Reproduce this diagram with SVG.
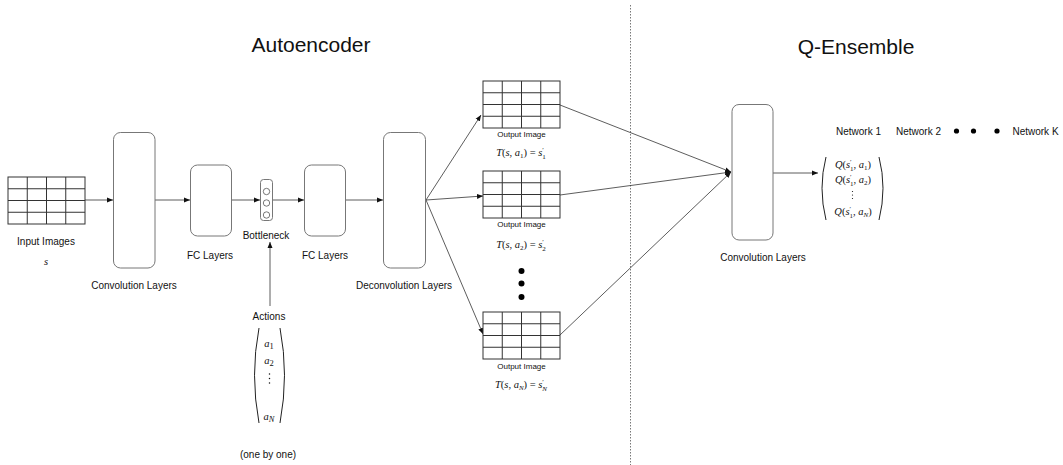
<svg xmlns="http://www.w3.org/2000/svg" xmlns:xlink="http://www.w3.org/1999/xlink" width="1063" height="465" viewBox="0 0 1063 465">
<style>
.box{fill:#fff;stroke:#777;stroke-width:1}
.gl{stroke:#333;stroke-width:1;fill:none}
.lbl{font-family:"Liberation Sans",Arial,sans-serif;font-size:10px;fill:#111;text-anchor:middle}
.sm{font-family:"Liberation Sans",Arial,sans-serif;font-size:8px;fill:#111;text-anchor:middle}
.title{font-family:"Liberation Sans",Arial,sans-serif;font-size:21px;fill:#111;text-anchor:middle}
.math{font-family:"Liberation Serif","Times New Roman",serif;font-size:10.5px;fill:#111}
.it{font-style:italic}
.sub{font-size:7px}
.con{stroke:#333;stroke-width:0.8;fill:none}
.par{stroke:#222;stroke-width:1;fill:none}
</style>
<defs>
<marker id="ah" markerUnits="userSpaceOnUse" markerWidth="7" markerHeight="6" refX="6" refY="3" orient="auto">
<path d="M0,0.5 L6,3 L0,5.5 Z" fill="#111"/>
</marker>
<g id="grid">
<rect x="0" y="0" width="77" height="47" fill="#fff" stroke="#333" stroke-width="1"/>
<path class="gl" d="M19.25,0V47M38.5,0V47M57.75,0V47M0,11.75H77M0,23.5H77M0,35.25H77"/>
</g>
</defs>
<rect width="1063" height="465" fill="#fff"/>

<text class="title" x="311" y="52">Autoencoder</text>
<text class="title" x="856" y="54">Q-Ensemble</text>

<line x1="630.5" y1="5" x2="630.5" y2="465" stroke="#555" stroke-width="0.8" stroke-dasharray="1.5,1.5"/>

<g id="connectors">
<line class="con" x1="85" y1="200" x2="113" y2="200" marker-end="url(#ah)"/>
<line class="con" x1="155" y1="200" x2="190" y2="200" marker-end="url(#ah)"/>
<line class="con" x1="232" y1="200" x2="260" y2="200" marker-end="url(#ah)"/>
<line class="con" x1="272" y1="200" x2="304" y2="200" marker-end="url(#ah)"/>
<line class="con" x1="346" y1="200" x2="383" y2="200" marker-end="url(#ah)"/>
<line class="con" x1="270" y1="306" x2="270" y2="242" marker-end="url(#ah)"/>
<line class="con" x1="426" y1="200" x2="481" y2="115" marker-end="url(#ah)"/>
<line class="con" x1="426" y1="200" x2="483" y2="196" marker-end="url(#ah)"/>
<line class="con" x1="426" y1="200" x2="483" y2="334" marker-end="url(#ah)"/>
<line class="con" x1="560" y1="105" x2="731" y2="172" marker-end="url(#ah)"/>
<line class="con" x1="560" y1="195" x2="731" y2="172" marker-end="url(#ah)"/>
<line class="con" x1="560" y1="335" x2="731" y2="172" marker-end="url(#ah)"/>
<line class="con" x1="773" y1="173" x2="818" y2="173" marker-end="url(#ah)"/>
</g>

<g id="input-images">
<use xlink:href="#grid" href="#grid" x="8" y="177"/>
<text class="lbl" x="46" y="245">Input Images</text>
<text class="math it" x="46" y="265" text-anchor="middle" font-size="13">s</text>
</g>

<g id="conv1">
<rect class="box" x="113.5" y="132.5" width="41.5" height="135.5" rx="7"/>
<text class="lbl" x="134" y="289">Convolution Layers</text>
</g>

<g id="fc1">
<rect class="box" x="190.5" y="165" width="41" height="71" rx="7"/>
<text class="lbl" x="210" y="259">FC Layers</text>
</g>

<g id="bottleneck">
<rect class="box" x="260.5" y="179.5" width="12" height="41" rx="3"/>
<circle cx="266.5" cy="191.5" r="3.2" fill="#fff" stroke="#555" stroke-width="0.8"/>
<circle cx="266.5" cy="203" r="3.2" fill="#fff" stroke="#555" stroke-width="0.8"/>
<circle cx="266.5" cy="215" r="3.2" fill="#fff" stroke="#555" stroke-width="0.8"/>
<text class="lbl" x="266" y="239">Bottleneck</text>
</g>

<g id="fc2">
<rect class="box" x="304.5" y="165" width="41" height="71" rx="7"/>
<text class="lbl" x="325" y="259">FC Layers</text>
</g>

<g id="deconv">
<rect class="box" x="383.5" y="132.5" width="42" height="135.5" rx="7"/>
<text class="lbl" x="404" y="289">Deconvolution Layers</text>
</g>

<g id="actions">
<text class="lbl" x="269" y="320">Actions</text>
<path class="par" d="M259,328 Q250,375 259,423"/>
<path class="par" d="M280,328 Q289,375 280,423"/>
<text class="math" x="269" y="347" text-anchor="middle" font-size="13"><tspan class="it">a</tspan><tspan font-size="8.5" dy="2">1</tspan></text>
<text class="math" x="269" y="364" text-anchor="middle" font-size="13"><tspan class="it">a</tspan><tspan font-size="8.5" dy="2">2</tspan></text>
<circle cx="269.5" cy="374" r="0.75" fill="#111"/>
<circle cx="269.5" cy="378.5" r="0.75" fill="#111"/>
<circle cx="269.5" cy="383" r="0.75" fill="#111"/>
<text class="math" x="269" y="420" text-anchor="middle" font-size="13"><tspan class="it">a</tspan><tspan class="it" font-size="8.5" dy="2">N</tspan></text>
<text class="lbl" x="268" y="458">(one by one)</text>
</g>

<g id="output1">
<use xlink:href="#grid" href="#grid" x="483" y="81"/>
<text class="sm" x="521.5" y="137">Output Image</text>
<text class="math" x="521" y="156" text-anchor="middle"><tspan class="it">T</tspan>(<tspan class="it">s</tspan>, <tspan class="it">a</tspan><tspan class="sub" dy="2">1</tspan><tspan dy="-2">) = </tspan><tspan class="it">s</tspan><tspan class="sub" dy="-4">′</tspan><tspan class="sub" dx="-1.5" dy="6.5">1</tspan></text>
</g>

<g id="output2">
<use xlink:href="#grid" href="#grid" x="483" y="171"/>
<text class="sm" x="521.5" y="227">Output Image</text>
<text class="math" x="521" y="248" text-anchor="middle"><tspan class="it">T</tspan>(<tspan class="it">s</tspan>, <tspan class="it">a</tspan><tspan class="sub" dy="2">2</tspan><tspan dy="-2">) = </tspan><tspan class="it">s</tspan><tspan class="sub" dy="-4">′</tspan><tspan class="sub" dx="-1.5" dy="6.5">2</tspan></text>
</g>

<g id="dots-mid">
<circle cx="521.5" cy="271" r="3" fill="#000"/>
<circle cx="521.5" cy="283.5" r="3" fill="#000"/>
<circle cx="521.5" cy="297" r="3" fill="#000"/>
</g>

<g id="output3">
<use xlink:href="#grid" href="#grid" x="483" y="312"/>
<text class="sm" x="521.5" y="369">Output Image</text>
<text class="math" x="521" y="388" text-anchor="middle"><tspan class="it">T</tspan>(<tspan class="it">s</tspan>, <tspan class="it">a</tspan><tspan class="sub it" dy="2">N</tspan><tspan dy="-2">) = </tspan><tspan class="it">s</tspan><tspan class="sub" dy="-4">′</tspan><tspan class="sub it" dx="-1.5" dy="6.5">N</tspan></text>
</g>

<g id="conv2">
<rect class="box" x="732" y="104.5" width="41" height="135.5" rx="7"/>
<text class="lbl" x="763" y="261">Convolution Layers</text>
</g>

<g id="networks">
<text class="lbl" x="858.5" y="135">Network 1</text>
<text class="lbl" x="918.5" y="135">Network 2</text>
<circle cx="956.5" cy="131" r="2.6" fill="#000"/>
<circle cx="973.5" cy="131" r="2.6" fill="#000"/>
<circle cx="997" cy="131" r="2.6" fill="#000"/>
<text class="lbl" x="1035.5" y="135">Network K</text>
</g>

<g id="q-values">
<path class="par" d="M826,157 Q818,188 826,220"/>
<path class="par" d="M879,157 Q887,188 879,220"/>
<text class="math" x="853" y="168" text-anchor="middle" font-size="11"><tspan class="it">Q</tspan>(<tspan class="it">s</tspan><tspan class="sub" dy="-4">′</tspan><tspan class="sub" dx="-1.5" dy="6.5">1</tspan><tspan dy="-2.5">, </tspan><tspan class="it">a</tspan><tspan class="sub" dy="2">1</tspan><tspan dy="-2">)</tspan></text>
<text class="math" x="853" y="183" text-anchor="middle" font-size="11"><tspan class="it">Q</tspan>(<tspan class="it">s</tspan><tspan class="sub" dy="-4">′</tspan><tspan class="sub" dx="-1.5" dy="6.5">1</tspan><tspan dy="-2.5">, </tspan><tspan class="it">a</tspan><tspan class="sub" dy="2">2</tspan><tspan dy="-2">)</tspan></text>
<circle cx="852.5" cy="191.5" r="0.6" fill="#111"/>
<circle cx="852.5" cy="195" r="0.6" fill="#111"/>
<circle cx="852.5" cy="198.5" r="0.6" fill="#111"/>
<text class="math" x="853" y="215" text-anchor="middle" font-size="11"><tspan class="it">Q</tspan>(<tspan class="it">s</tspan><tspan class="sub" dy="-4">′</tspan><tspan class="sub" dx="-1.5" dy="6.5">1</tspan><tspan dy="-2.5">, </tspan><tspan class="it">a</tspan><tspan class="sub it" dy="2">N</tspan><tspan dy="-2">)</tspan></text>
</g>
</svg>
